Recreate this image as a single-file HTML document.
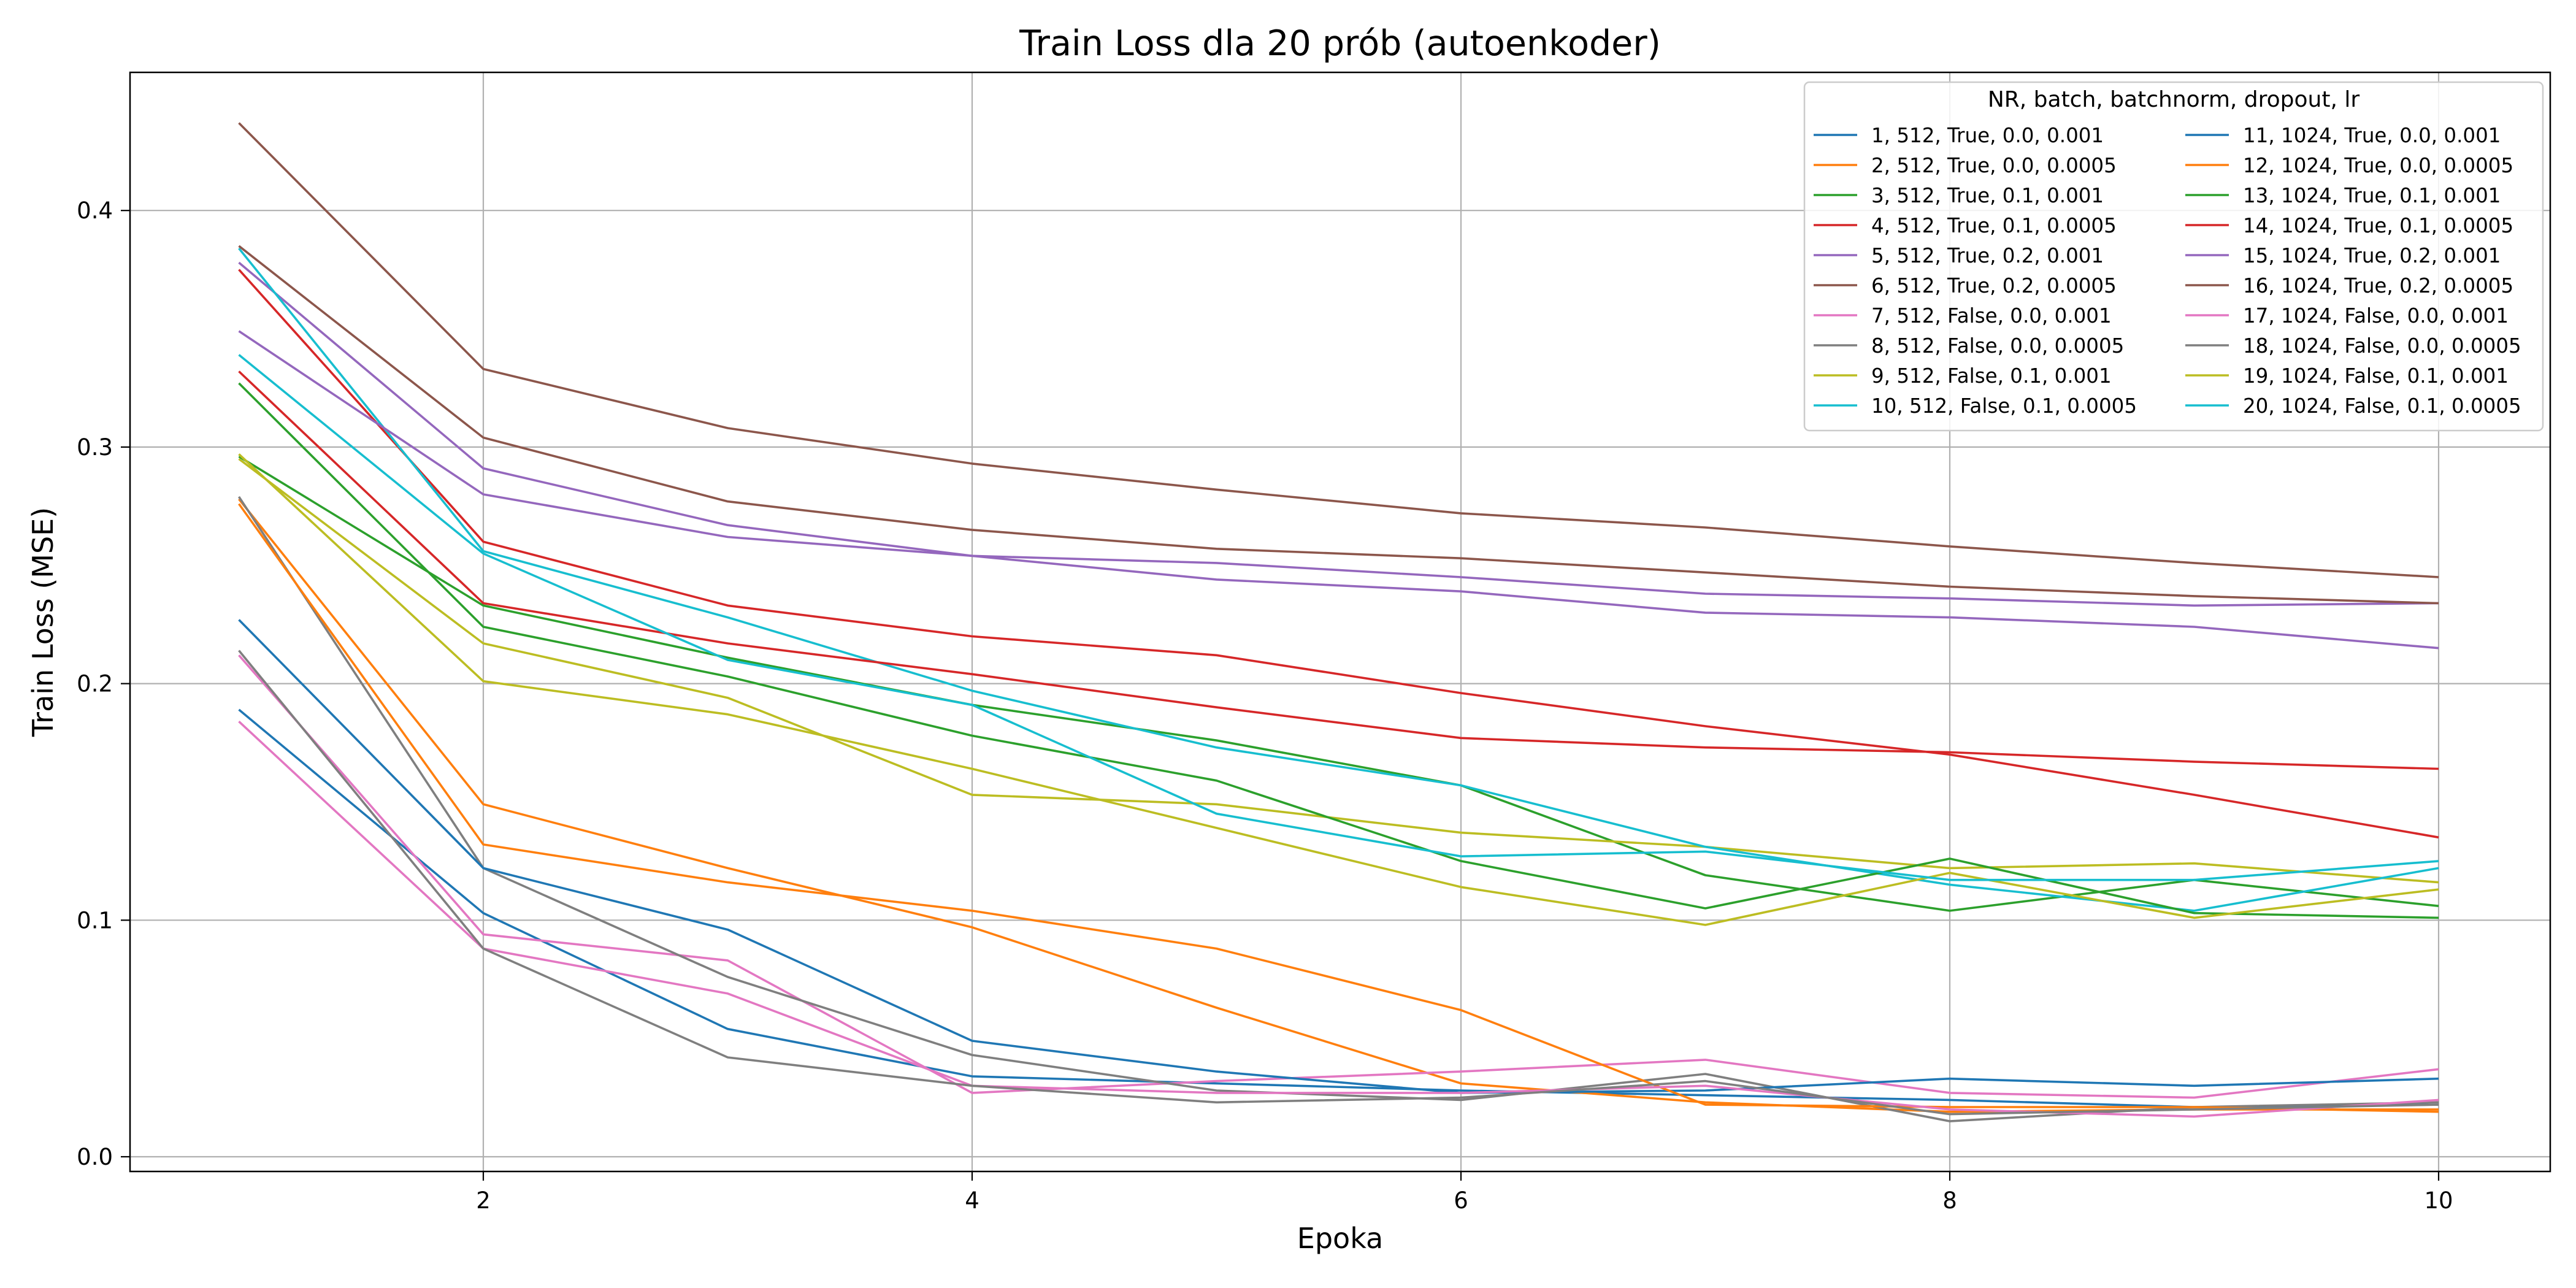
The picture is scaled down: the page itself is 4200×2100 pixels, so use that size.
<!DOCTYPE html>
<html><head><meta charset="utf-8"><style>
html,body{margin:0;padding:0;background:#fff}
svg{display:block;font-family:"DejaVu Sans","Liberation Sans",sans-serif}
</style></head><body>
<svg id="chart" width="4200" height="2100" viewBox="0 0 4200 2100" xmlns="http://www.w3.org/2000/svg">
<rect x="0" y="0" width="4200" height="2100" fill="#fff"/>
<text x="2185" y="90" font-size="57" text-anchor="middle">Train Loss dla 20 prób (autoenkoder)</text>
<g id="grid"></g>
<g id="series"></g>
<rect x="212" y="118" width="3946" height="1792" fill="none" stroke="#000" stroke-width="2.5"/>
<g id="ticks"></g>
<text x="2185" y="2035" font-size="46" text-anchor="middle">Epoka</text>
<text x="86" y="1014" font-size="46" text-anchor="middle" transform="rotate(-90 86 1014)">Train Loss (MSE)</text>
<g id="legend"></g>
</svg>
<script>
const epochs=[1,2,3,4,5,6,7,8,9,10];
const xTicks=[2,4,6,8,10];
const yTicks=[0.0,0.1,0.2,0.3,0.4];
const labels=["1, 512, True, 0.0, 0.001","2, 512, True, 0.0, 0.0005","3, 512, True, 0.1, 0.001","4, 512, True, 0.1, 0.0005","5, 512, True, 0.2, 0.001","6, 512, True, 0.2, 0.0005","7, 512, False, 0.0, 0.001","8, 512, False, 0.0, 0.0005","9, 512, False, 0.1, 0.001","10, 512, False, 0.1, 0.0005","11, 1024, True, 0.0, 0.001","12, 1024, True, 0.0, 0.0005","13, 1024, True, 0.1, 0.001","14, 1024, True, 0.1, 0.0005","15, 1024, True, 0.2, 0.001","16, 1024, True, 0.2, 0.0005","17, 1024, False, 0.0, 0.001","18, 1024, False, 0.0, 0.0005","19, 1024, False, 0.1, 0.001","20, 1024, False, 0.1, 0.0005"];
const colors=["#1f77b4","#ff7f0e","#2ca02c","#d62728","#9467bd","#8c564b","#e377c2","#7f7f7f","#bcbd22","#17becf"];
const s1=[0.189,0.103,0.054,0.034,0.031,0.028,0.026,0.024,0.021,0.022];
const s2=[0.278,0.149,0.122,0.097,0.063,0.031,0.023,0.019,0.020,0.020];
const s3=[0.296,0.233,0.211,0.191,0.176,0.157,0.119,0.104,0.117,0.106];
const s4=[0.375,0.260,0.233,0.220,0.212,0.196,0.182,0.170,0.153,0.135];
const s5=[0.378,0.291,0.267,0.254,0.251,0.245,0.238,0.236,0.233,0.234];
const s6=[0.437,0.333,0.308,0.293,0.282,0.272,0.266,0.258,0.251,0.245];
const s7=[0.212,0.094,0.083,0.027,0.032,0.036,0.041,0.027,0.025,0.037];
const s8=[0.279,0.122,0.076,0.043,0.028,0.024,0.035,0.015,0.021,0.023];
const s9=[0.295,0.217,0.194,0.153,0.149,0.137,0.131,0.122,0.124,0.116];
const s10=[0.384,0.256,0.228,0.197,0.173,0.157,0.131,0.115,0.104,0.122];
const s11=[0.227,0.122,0.096,0.049,0.036,0.027,0.028,0.033,0.030,0.033];
const s12=[0.276,0.132,0.116,0.104,0.088,0.062,0.022,0.021,0.021,0.019];
const s13=[0.327,0.224,0.203,0.178,0.159,0.125,0.105,0.126,0.103,0.101];
const s14=[0.332,0.234,0.217,0.204,0.190,0.177,0.173,0.171,0.167,0.164];
const s15=[0.349,0.280,0.262,0.254,0.244,0.239,0.230,0.228,0.224,0.215];
const s16=[0.385,0.304,0.277,0.265,0.257,0.253,0.247,0.241,0.237,0.234];
const s17=[0.184,0.088,0.069,0.030,0.027,0.027,0.030,0.020,0.017,0.024];
const s18=[0.214,0.088,0.042,0.030,0.023,0.025,0.032,0.018,0.020,0.022];
const s19=[0.297,0.201,0.187,0.164,0.139,0.114,0.098,0.120,0.101,0.113];
const s20=[0.339,0.255,0.210,0.191,0.145,0.127,0.129,0.117,0.117,0.125];
const series=[s1,s2,s3,s4,s5,s6,s7,s8,s9,s10,s11,s12,s13,s14,s15,s16,s17,s18,s19,s20];

const NS="http://www.w3.org/2000/svg";
function xS(e){return 788+(e-2)*398.5;}
function yS(v){return 1886-v*3857;}
function mk(tag,attrs,parent){const el=document.createElementNS(NS,tag);for(const k in attrs)el.setAttribute(k,attrs[k]);parent.appendChild(el);return el;}
const grid=document.getElementById('grid'),ticks=document.getElementById('ticks'),sg=document.getElementById('series'),lg=document.getElementById('legend');
xTicks.forEach(t=>{
  const g=mk('line',{x1:xS(t),x2:xS(t),y1:118,y2:1910,stroke:'#b0b0b0','stroke-width':2.2},grid);
  
  
  const tk=mk('line',{x1:xS(t),x2:xS(t),y1:1910,y2:1925,stroke:'#000','stroke-width':2.2},ticks);
  
  
  const tl=mk('text',{x:xS(t),y:1970,'font-size':37,'text-anchor':'middle'},ticks);
  tl.textContent=String(t);
  
  
});
yTicks.forEach(t=>{
  const g=mk('line',{x1:212,x2:4158,y1:yS(t),y2:yS(t),stroke:'#b0b0b0','stroke-width':2.2},grid);
  
  
  const tk=mk('line',{x1:197,x2:212,y1:yS(t),y2:yS(t),stroke:'#000','stroke-width':2.2},ticks);
  
  
  const tl=mk('text',{x:184,y:yS(t)+13,'font-size':37,'text-anchor':'end'},ticks);
  tl.textContent=t.toFixed(1);
  
  
});
series.forEach((s,i)=>{
  const pts=s.map((v,j)=>xS(epochs[j]).toFixed(1)+','+yS(v).toFixed(1)).join(' ');
  const pl=mk('polyline',{points:pts,fill:'none',stroke:colors[i%10],'stroke-width':3.6,'stroke-linejoin':'round'},sg);
  
  
});
const box=mk('rect',{x:2942,y:134,width:1204,height:568,rx:8,fill:'#fff','fill-opacity':0.85,stroke:'#ccc','stroke-width':2.5},lg);


const lt=mk('text',{x:3544,y:174,'font-size':36,'text-anchor':'middle'},lg);
lt.textContent='NR, batch, batchnorm, dropout, lr';


labels.forEach((l,i)=>{
  const col=i<10?0:1,row=i%10;
  const lx=col?3563:2957, y=220+row*49;
  const ln=mk('line',{x1:lx,x2:lx+71,y1:y,y2:y,stroke:colors[i%10],'stroke-width':3.6},lg);
  
  
  const tx=mk('text',{x:lx+94,y:y+12,'font-size':32.5},lg);
  tx.textContent=l;
  
  
});
</script>
</body></html>
